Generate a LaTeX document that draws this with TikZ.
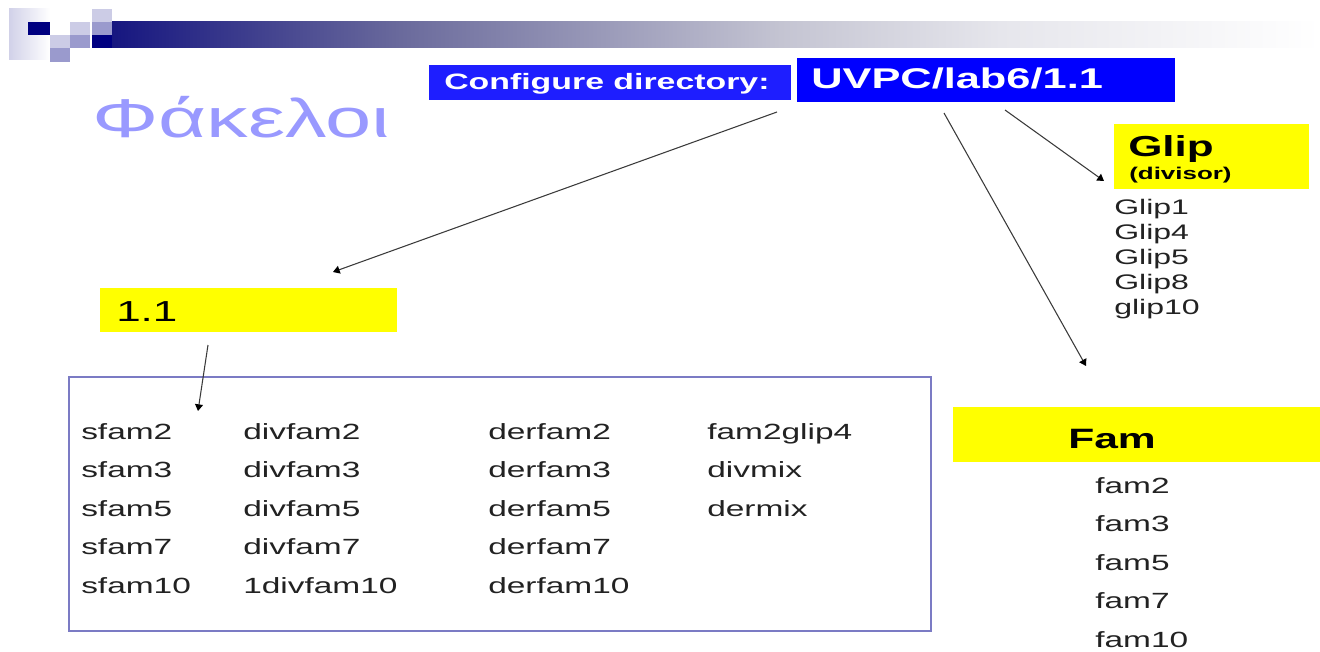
\documentclass[tikz,border=0pt]{standalone}
\usepackage{fontspec}
\setmainfont{Liberation Sans}[FakeStretch=1.52]
\usetikzlibrary{arrows.meta,fit}

\definecolor{navy}{HTML}{000080}
\definecolor{midlav}{HTML}{9A9ACD}
\definecolor{lightlav}{HTML}{CCCCE6}
\definecolor{bandA}{HTML}{161680}
\definecolor{bandB}{HTML}{6A6A9C}
\definecolor{bandC}{HTML}{C4C4D2}
\definecolor{bandD}{HTML}{E6E6EC}
\definecolor{cfgblue}{HTML}{1E1EFF}
\definecolor{dirblue}{HTML}{0000FF}
\definecolor{hiyellow}{HTML}{FFFF00}
\definecolor{titlecol}{HTML}{9999FF}
\definecolor{framecol}{HTML}{7B7BC4}
\definecolor{bodytext}{HTML}{222222}
\definecolor{arrowcol}{HTML}{3A3A3A}

\newcommand{\fsz}[1]{\fontsize{#1}{1.2\dimexpr #1pt\relax}\selectfont}

\begin{document}
\begin{tikzpicture}[x=0.75pt,y=-0.75pt,
  txt/.style={anchor=base west,inner sep=0pt,text=bodytext},
  headtxt/.style={anchor=base west,inner sep=0pt,text=white,font=\bfseries},
  boxfill/.style={inner sep=0pt,draw=none},
  ybox/.style={boxfill,fill=hiyellow},
  bbox/.style={boxfill,fill=#1},
  linkarrow/.style={draw=arrowcol,line width=0.8pt,
    -{Triangle[length=5pt,width=6pt,color=black]}}]
\useasboundingbox (0,0) rectangle (1320,652);

% --- slide header: square ornament and fading band
\shade[left color=lightlav!90,right color=white] (9,9) rectangle (50,60);
\fill[navy] (28,22) rectangle (50,35);
\fill[lightlav] (50,35) rectangle (70,48);
\fill[midlav] (50,48) rectangle (70,62);
\fill[lightlav] (70,22) rectangle (90,35);
\fill[midlav] (70,35) rectangle (90,48);
\fill[lightlav] (92,9) rectangle (112,22);
\fill[midlav] (92,22) rectangle (112,35);
\fill[navy] (92,35) rectangle (112,48);
\shade[left color=bandA,right color=bandB] (112,22) rectangle (400.5,48);
\shade[left color=bandB,right color=bandC] (400,22) rectangle (780.5,48);
\shade[left color=bandC,right color=bandD] (780,22) rectangle (1000.5,48);
\shade[left color=bandD,right color=white] (1000,22) rectangle (1320,48);

% --- title
\node[txt,text=titlecol,font=\fsz{41}] (title) at (92,138) {Φάκελοι};

% --- directory banner
\node[bbox=cfgblue,fit={(429,65) (791,100)}] (cfgbox) {};
\node[headtxt,font=\bfseries\fsz{16.7}] (cfgtext) at (444,90) {Configure directory:};
\node[bbox=dirblue,fit={(797,58) (1175,102)}] (uvpcbox) {};
\node[headtxt,font=\bfseries\fsz{21.4}] (uvpctext) at (811,89) {UVPC/lab6/1.1};

% --- Glip group
\node[ybox,fit={(1114,124) (1309,189)}] (glipbox) {};
\node[txt,text=black,font=\bfseries\fsz{21.7}] (gliphead) at (1128,157) {Glip};
\node[txt,text=black,font=\bfseries\fsz{12.8}] (glipsub) at (1129,180) {(divisor)};
\foreach \t [count=\i from 0] in {Glip1,Glip4,Glip5,Glip8,glip10}
  \node[txt,font=\fsz{15.8}] (glip\i) at (1114,215+25*\i) {\t};

% --- 1.1 group
\node[ybox,fit={(100,288) (397,332)}] (onebox) {};
\node[txt,text=black,font=\fsz{21.7}] (onetext) at (116,321) {1.1};

% --- file listing
\node[draw=framecol,line width=1.5pt,inner sep=0pt,fit={(69,377) (931,631)}] (files) {};
\foreach \a/\b/\c [count=\i from 0] in
  {sfam2/divfam2/derfam2,sfam3/divfam3/derfam3,sfam5/divfam5/derfam5,
   sfam7/divfam7/derfam7,sfam10/1divfam10/derfam10}{
  \node[txt,font=\fsz{16.5}] (s\i) at (81,439+38.5*\i) {\a};
  \node[txt,font=\fsz{16.5}] (d\i) at (243,439+38.5*\i) {\b};
  \node[txt,font=\fsz{16.5}] (r\i) at (488,439+38.5*\i) {\c};
}
\foreach \t [count=\i from 0] in {fam2glip4,divmix,dermix}
  \node[txt,font=\fsz{16.5}] (m\i) at (707,439+38.5*\i) {\t};

% --- Fam group
\node[ybox,fit={(953,407) (1320,462)}] (fambox) {};
\node[txt,text=black,font=\bfseries\fsz{21}] (famhead) at (1068,448) {Fam};
\foreach \t [count=\i from 0] in {fam2,fam3,fam5,fam7,fam10}
  \node[txt,font=\fsz{16.5}] (fam\i) at (1095,493+38.6*\i) {\t};

% --- connectors
\coordinate (a1s) at (777,112);  \coordinate (a1e) at (333,272);
\coordinate (a2s) at (1005,110); \coordinate (a2e) at (1104,181);
\coordinate (a3s) at (944,113);  \coordinate (a3e) at (1086,366);
\coordinate (a4s) at (208,345);  \coordinate (a4e) at (198,411);
\draw[linkarrow] (a1s) -- (a1e);
\draw[linkarrow] (a2s) -- (a2e);
\draw[linkarrow] (a3s) -- (a3e);
\draw[linkarrow] (a4s) -- (a4e);
\end{tikzpicture}
\end{document}
